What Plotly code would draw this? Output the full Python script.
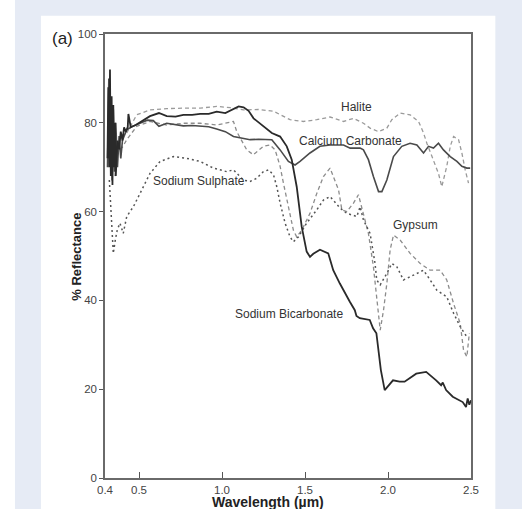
import plotly.graph_objects as go

# ---------------- data ----------------
bicarb_w = [0.31, 0.315, 0.32, 0.325, 0.33, 0.335, 0.34, 0.345, 0.35, 0.355, 0.36, 0.37, 0.38, 0.39,
            0.40, 0.41, 0.42, 0.428, 0.432, 0.436, 0.45, 0.48, 0.52, 0.566, 0.62, 0.667, 0.72, 0.767,
            0.82, 0.868, 0.92, 0.968, 1.02, 1.063, 1.10, 1.13, 1.16, 1.19, 1.25, 1.30, 1.35, 1.39,
            1.42, 1.45, 1.48, 1.51, 1.53, 1.55, 1.59, 1.64, 1.67, 1.71, 1.77, 1.80, 1.81, 1.83, 1.89,
            1.91, 1.93, 1.957, 1.98, 2.03, 2.07, 2.10, 2.17, 2.23, 2.29, 2.32, 2.33, 2.35, 2.39, 2.45,
            2.47, 2.48, 2.49, 2.50]
bicarb_r = [72, 88, 70, 92, 68, 86, 66, 84, 70, 80, 68, 76, 74, 78,
            76, 79, 78, 79, 79, 82, 79, 79.5, 80.5, 81.5, 82.2, 81.5, 81.4, 81.8,
            81.8, 82, 82, 82.5, 82.2, 83, 83.7, 83.5, 82.7, 81, 79.2, 77.7, 76.9, 74.7, 71.7,
            65.6, 56.6, 51, 49.8, 50.5, 51.4, 50.6, 46.8, 43.8, 39.7, 37.8, 36.5, 36, 35.6,
            33.7, 32.6, 24.3, 19.8, 22, 21.7, 21.7, 23.5, 23.9, 22, 20.9, 21.5, 19.8, 18.3,
            17.1, 16, 17.9, 16.5, 17.5, 16.4]

calc_w = [0.31, 0.318, 0.323, 0.33, 0.338, 0.345, 0.352, 0.36, 0.37, 0.38, 0.39, 0.40, 0.41, 0.426,
          0.46, 0.506, 0.55, 0.586, 0.62, 0.667, 0.72, 0.767, 0.82, 0.868, 0.92, 0.968, 1.02, 1.069,
          1.12, 1.169, 1.22, 1.27, 1.30, 1.35, 1.40, 1.44, 1.47, 1.53, 1.59, 1.651, 1.732, 1.772,
          1.832, 1.852, 1.882, 1.912, 1.943, 1.963, 1.993, 2.033, 2.083, 2.133, 2.174, 2.214,
          2.244, 2.274, 2.304, 2.334, 2.375, 2.415, 2.445, 2.475, 2.495]
calc_r = [70, 90, 72, 85, 67, 83, 69, 80, 70, 77, 72, 76, 77, 78.4,
          79.2, 79.9, 80.6, 80.5, 79.2, 79.9, 79.5, 79.3, 79.4, 79.3, 79.1, 78.6, 78, 76.9,
          76.5, 76.2, 76.3, 76.2, 76.2, 73.9, 71.3, 70.5, 71.3, 73.2, 74.7, 75, 75, 74.3,
          74.3, 73.9, 71.7, 67.9, 64.5, 64.5, 67.1, 72.4, 74.7, 75.4, 75, 73.2,
          74.7, 74.3, 75.4, 73.9, 72.4, 71.3, 70.2, 69.8, 69.8]

halite_w = [0.426, 0.486, 0.566, 0.667, 0.767, 0.868, 0.968, 1.05, 1.129, 1.22, 1.31, 1.41, 1.49,
            1.571, 1.651, 1.732, 1.792, 1.852, 1.892, 1.943, 1.993, 2.023, 2.073, 2.133, 2.184,
            2.214, 2.234, 2.274, 2.304, 2.324, 2.354, 2.375, 2.395, 2.425, 2.445, 2.465, 2.485]
halite_r = [77.7, 81.8, 82.9, 83.2, 83.3, 83.3, 83.7, 83.4, 82.9, 83, 82.6, 80.7, 80.3,
            80.7, 81.3, 80.3, 81, 79.9, 78.8, 78, 78.8, 80.7, 82.2, 81.8, 80.3,
            77.7, 75.4, 71.7, 68.6, 65.6, 70.2, 74.7, 76.9, 76.2, 73.2, 69.4, 66.4]

gypsum_w = [0.355, 0.375, 0.40, 0.426, 0.486, 0.566, 0.667, 0.767, 0.868, 0.968, 1.069, 1.089,
            1.149, 1.189, 1.249, 1.29, 1.32, 1.35, 1.37, 1.39, 1.41, 1.43, 1.45, 1.48, 1.53,
            1.571, 1.611, 1.651, 1.702, 1.722, 1.752, 1.792, 1.822, 1.852, 1.882, 1.912, 1.932,
            1.953, 1.973, 1.993, 2.013, 2.033, 2.073, 2.133, 2.194, 2.254, 2.314, 2.354, 2.395,
            2.435, 2.455, 2.475, 2.49]
gypsum_r = [68, 73.9, 74.5, 76.2, 79.2, 80.3, 79.5, 79.9, 79.9, 79.5, 80.3, 78,
            73.9, 72.8, 74.7, 75, 73.9, 70.2, 66.4, 62.6, 58.9, 55.8, 54.3, 55.8, 59.6,
            64.1, 67.9, 69.8, 64.9, 60.4, 60, 61.9, 63.8, 59.6, 55.1, 47.6, 40.8,
            33.3, 37.8, 43.8, 51.4, 54.7, 53.6, 50.6, 48.3, 46.8, 46.8, 44.6, 39.3,
            34.8, 28.8, 27.3, 32.6]

sulph_w = [0.321, 0.329, 0.337, 0.345, 0.357, 0.369, 0.385, 0.405, 0.426, 0.466, 0.506, 0.566,
           0.627, 0.707, 0.787, 0.868, 0.948, 1.028, 1.069, 1.129, 1.169, 1.209, 1.249, 1.28,
           1.31, 1.33, 1.35, 1.38, 1.41, 1.43, 1.46, 1.51, 1.571, 1.611, 1.651, 1.711, 1.752,
           1.812, 1.832, 1.852, 1.892, 1.922, 1.932, 1.953, 1.993, 2.023, 2.053, 2.093, 2.154,
           2.214, 2.254, 2.294, 2.354, 2.395, 2.435, 2.475]
sulph_r = [67.1, 61.1, 55.1, 50.6, 53.6, 55.9, 57.4, 55.1, 58.9, 61.1, 64.1, 68.6,
           71.3, 72.4, 72, 71.3, 69.8, 69, 69.4, 67.1, 66.8, 67.5, 69, 69.4,
           68.3, 65.6, 61.9, 57.4, 54.3, 53.2, 54.3, 57.4, 60.4, 62.6, 63.4, 60.8, 59.6,
           58.9, 61.1, 58.1, 55.1, 48.3, 44.6, 43.5, 46.1, 48.3, 47.6, 44.6, 45.7,
           46.8, 44.6, 42.3, 40.8, 37.1, 34.1, 31.8]

x_tickvals = [0.295, 0.5, 1.0, 1.5, 2.0, 2.5]
x_ticktext = ["0.4", "0.5", "1.0", "1.5", "2.0", "2.5"]
y_tickvals = [0, 20, 40, 60, 80, 100]

labels = ["Halite", "Calcium Carbonate", "Sodium Sulphate", "Gypsum", "Sodium Bicarbonate"]
label_w = [1.808, 1.772, 0.862, 2.164, 1.404]
label_r = [83.6, 76.0, 67.0, 56.9, 36.9]

# ---------------- figure ----------------
fig = go.Figure()

fig.add_trace(go.Scatter(x=halite_w, y=halite_r, mode="lines",
                         line=dict(color="#9a9a9a", width=1.3, dash="4px,3px"), name="Halite"))
fig.add_trace(go.Scatter(x=gypsum_w, y=gypsum_r, mode="lines",
                         line=dict(color="#8c8c8c", width=1.3, dash="4px,3px"), name="Gypsum"))
fig.add_trace(go.Scatter(x=sulph_w, y=sulph_r, mode="lines",
                         line=dict(color="#555555", width=1.5, dash="2px,3px"), name="Sodium Sulphate"))
fig.add_trace(go.Scatter(x=calc_w, y=calc_r, mode="lines",
                         line=dict(color="#4a4a4a", width=1.6), name="Calcium Carbonate"))
fig.add_trace(go.Scatter(x=bicarb_w, y=bicarb_r, mode="lines",
                         line=dict(color="#2a2a2a", width=1.8), name="Sodium Bicarbonate"))

for t, xw, yr in zip(labels, label_w, label_r):
    fig.add_annotation(x=xw, y=yr, text=t, showarrow=False,
                       xanchor="center", yanchor="middle",
                       font=dict(family="Liberation Sans, Arial", size=12, color="#333333"),
                       bgcolor="rgba(0,0,0,0)")

# axis titles and panel label
fig.add_annotation(x=0.444, y=-0.0545, xref="paper", yref="paper", text="<b>Wavelength (µm)</b>",
                   showarrow=False, xanchor="center", yanchor="middle",
                   font=dict(family="Liberation Sans, Arial", size=14, color="#222222"))
fig.add_annotation(x=-0.077, y=0.498, xref="paper", yref="paper", text="<b>% Reflectance</b>",
                   showarrow=False, textangle=-90, xanchor="center", yanchor="middle",
                   font=dict(family="Liberation Sans, Arial", size=13, color="#222222"))
fig.add_annotation(x=-0.115, y=0.989, xref="paper", yref="paper", text="(a)",
                   showarrow=False, xanchor="center", yanchor="middle",
                   font=dict(family="Liberation Sans, Arial", size=17, color="#222222"))

# background: light blue page with white panel
fig.add_shape(type="rect", xref="paper", yref="paper", x0=-0.246, x1=1.2, y0=-0.08, y1=1.2,
              fillcolor="#e6ebf5", line=dict(width=0), layer="below")
fig.add_shape(type="rect", xref="paper", yref="paper", x0=-0.175, x1=1.0665, y0=-0.08, y1=1.041,
              fillcolor="white", line=dict(width=0), layer="below")

fig.update_xaxes(range=[0.295, 2.5], tickvals=x_tickvals, ticktext=x_ticktext,
                 ticks="inside", ticklen=6, tickcolor="#555555", tickwidth=1.2,
                 showline=True, linecolor="#6a6a6a", linewidth=1.5, mirror=True,
                 showgrid=False, zeroline=False,
                 tickfont=dict(family="Liberation Sans, Arial", size=11.5, color="#444444"))
fig.update_yaxes(range=[0, 100], tickvals=y_tickvals,
                 ticks="outside", ticklen=4, tickcolor="#555555", tickwidth=1.2,
                 showline=True, linecolor="#6a6a6a", linewidth=1.5, mirror=True,
                 showgrid=False, zeroline=False,
                 tickfont=dict(family="Liberation Sans, Arial", size=11.5, color="#444444"))

fig.update_layout(width=522, height=509,
                  margin=dict(l=105, r=51, t=34, b=31),
                  paper_bgcolor="white", plot_bgcolor="white",
                  showlegend=False)

fig.write_html("out.html", config={"displayModeBar": False},
               post_script="document.body.style.margin='0px';document.body.style.overflow='hidden';")
